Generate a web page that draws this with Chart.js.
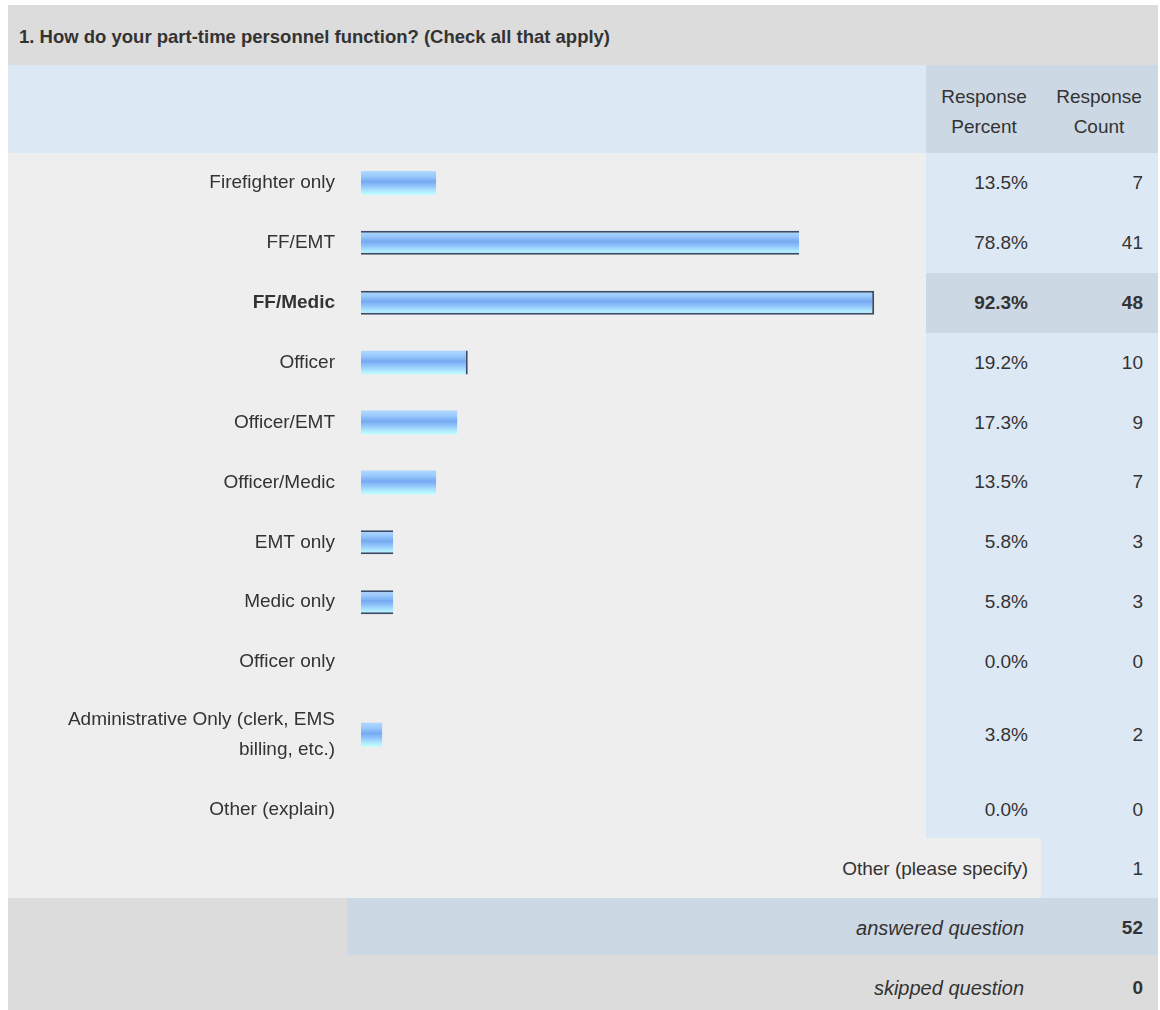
<!DOCTYPE html>
<html>
<head>
<meta charset="utf-8">
<script src="https://cdn.jsdelivr.net/npm/chart.js@4.4.1/dist/chart.umd.min.js"></script>
<style>
  body { margin: 0; background: #fff; font-family: "Liberation Sans", Arial, sans-serif; color: #333; }
  #page { position: relative; width: 1160px; height: 1010px; overflow: hidden; }
  .box { position: absolute; }
  .txt { position: absolute; font-size: 19px; line-height: 22px; white-space: nowrap; }
  canvas { position: absolute; }
</style>
</head>
<body>
<div id="page">
  <!-- title bar -->
  <div class="box" style="left:8px;top:5px;width:1150px;height:60px;background:#dcdcdc"></div>
  <!-- header row -->
  <div class="box" style="left:8px;top:65px;width:918px;height:88px;background:#dde8f5"></div>
  <div class="box" style="left:926px;top:65px;width:232px;height:88px;background:#cdd8e5"></div>
  <!-- body -->
  <div class="box" style="left:8px;top:153px;width:918px;height:685px;background:#eeeeee"></div>
  <div class="box" style="left:926px;top:153px;width:232px;height:685px;background:#dde8f5"></div>
  <div class="box" id="hilite" style="left:926px;top:273px;width:232px;height:60px;background:#cdd8e5"></div>
  <!-- other (please specify) -->
  <div class="box" style="left:8px;top:838px;width:1033px;height:60px;background:#eeeeee"></div>
  <div class="box" style="left:1041px;top:838px;width:117px;height:60px;background:#dde8f5"></div>
  <!-- answered / skipped -->
  <div class="box" style="left:8px;top:898px;width:339px;height:57px;background:#dcdcdc"></div>
  <div class="box" style="left:347px;top:898px;width:811px;height:57px;background:#cdd8e5"></div>
  <div class="box" style="left:8px;top:955px;width:1150px;height:55px;background:#dcdcdc"></div>

  <canvas id="chartTop" style="left:8px;top:153px"></canvas>
  <canvas id="chartBottom" style="left:8px;top:692px"></canvas>
</div>
<script>
const categories = ['Firefighter only', 'FF/EMT', 'FF/Medic', 'Officer', 'Officer/EMT', 'Officer/Medic',
  'EMT only', 'Medic only', 'Officer only', ['Administrative Only (clerk, EMS', 'billing, etc.)'], 'Other (explain)'];
const responsePercent = [13.5, 78.8, 92.3, 19.2, 17.3, 13.5, 5.8, 5.8, 0.0, 3.8, 0.0];
const responseCount = [7, 41, 48, 10, 9, 7, 3, 3, 0, 2, 0];
const otherSpecifyCount = 1;
const answeredCount = 52;
const skippedCount = 0;

const title = '1. How do your part-time personnel function? (Check all that apply)';
const hiliteRow = responsePercent.indexOf(Math.max(...responsePercent));

// dark edges seen on some bars in the original picture
const barEdges = ['', 'tb', 'tbr', 'r', '', '', 'tb', 'tb', '', '', ''];

const page = document.getElementById('page');

function put(text, x, y, align, css) {
  const d = document.createElement('div');
  d.className = 'txt';
  d.textContent = text;
  d.style.top = (y - 11) + 'px';
  if (align === 'right') d.style.right = (1160 - x) + 'px';
  else if (align === 'center') { d.style.left = (x - 100) + 'px'; d.style.width = '200px'; d.style.textAlign = 'center'; }
  else d.style.left = x + 'px';
  if (css) Object.assign(d.style, css);
  page.appendChild(d);
}

function barFill(c) {
  const chart = c.chart;
  const y = chart.scales.y;
  const mid = y ? y.getPixelForValue(c.dataIndex) : NaN;
  if (!isFinite(mid)) return '#8cbef6';
  const g = chart.ctx.createLinearGradient(0, mid - 12, 0, mid + 12);
  g.addColorStop(0, '#b0d8ff');
  g.addColorStop(0.2, '#9ccbfd');
  g.addColorStop(0.45, '#75aaf1');
  g.addColorStop(0.62, '#8fc2fb');
  g.addColorStop(0.82, '#ace6ff');
  g.addColorStop(1, '#c2ffff');
  return g;
}

function makeChart(id, height, from, to, padTop) {
  const canvas = document.getElementById(id);
  canvas.width = 918;
  canvas.height = height;
  canvas.style.width = '918px';
  canvas.style.height = height + 'px';
  return new Chart(canvas, {
    type: 'bar',
    data: {
      labels: categories.slice(from, to),
      datasets: [{
        data: responsePercent.slice(from, to),
        backgroundColor: c => barFill(c),
        borderColor: '#3a4a68',
        borderSkipped: false,
        inflateAmount: 0,
        borderWidth: c => {
          const e = barEdges[c.dataIndex + from] || '';
          return { top: e.includes('t') ? 2 : 0, bottom: e.includes('b') ? 2 : 0,
                   right: e.includes('r') ? 2 : 0, left: 0 };
        },
        barThickness: 24
      }]
    },
    options: {
      indexAxis: 'y',
      responsive: false,
      animation: false,
      layout: { padding: { top: padTop, right: 9, bottom: 0, left: 0 } },
      plugins: { legend: { display: false }, tooltip: { enabled: false } },
      scales: {
        x: { display: false, min: 0, max: 100 },
        y: {
          grid: { display: false, drawTicks: false },
          border: { display: false },
          afterFit: s => { s.width = 353; s.paddingTop = 0; s.paddingBottom = 0; },
          ticks: {
            autoSkip: false,
            padding: 26,
            color: '#333',
            font: c => ({ family: '"Liberation Sans", Arial, sans-serif', size: 19, lineHeight: 1.55,
                          weight: (c.index + from) === hiliteRow ? 'bold' : 'normal' })
          }
        }
      }
    }
  });
}

const chartTop = makeChart('chartTop', 539, 0, 9, 0);
const chartBottom = makeChart('chartBottom', 156, 9, 11, 5);
// redraw once the scales are laid out so the bar gradients line up
chartTop.update();
chartBottom.update();

// value columns follow the chart rows
const rowY = [];
[[chartTop, 153, 0], [chartBottom, 692, 9]].forEach(([ch, top, from]) => {
  ch.data.labels.forEach((_, i) => { rowY[i + from] = top + ch.scales.y.getPixelForValue(i); });
});
document.getElementById('hilite').style.top = (Math.round(rowY[hiliteRow]) - 30) + 'px';

put(title, 19, 37, 'left', { fontWeight: 'bold', fontSize: '18.5px' });
put('Response', 984, 97, 'center');
put('Percent', 984, 127, 'center');
put('Response', 1099, 97, 'center');
put('Count', 1099, 127, 'center');

responsePercent.forEach((p, i) => {
  const bold = i === hiliteRow ? { fontWeight: 'bold' } : null;
  put(p.toFixed(1) + '%', 1028, rowY[i], 'right', bold);
  put(String(responseCount[i]), 1143, rowY[i], 'right', bold);
});

put('Other (please specify)', 1028, 869, 'right');
put(String(otherSpecifyCount), 1143, 869, 'right');
put('answered question', 1024, 928, 'right', { fontStyle: 'italic', fontSize: '20px' });
put(String(answeredCount), 1143, 928, 'right', { fontWeight: 'bold' });
put('skipped question', 1024, 988, 'right', { fontStyle: 'italic', fontSize: '20px' });
put(String(skippedCount), 1143, 988, 'right', { fontWeight: 'bold' });
</script>
</body>
</html>
